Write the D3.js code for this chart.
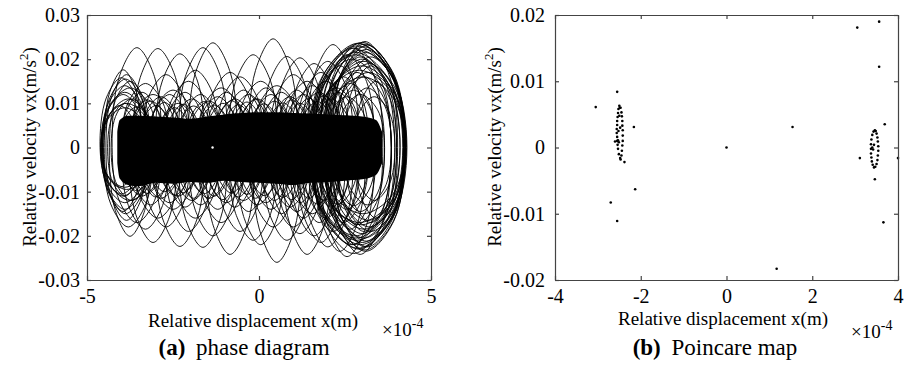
<!DOCTYPE html>
<html lang="en">
<head>
<meta charset="utf-8">
<style>
body { margin: 0; background: #fff; }
svg text { font-family: "Liberation Serif", "Times New Roman", serif; fill: #000; }
</style>
</head>
<body>
<script src="https://d3js.org/d3.v7.min.js"></script>
<script>
var width = 915, height = 365;

// ---- (a) phase diagram: loops of the trajectory (x in 1e-4 m) ----
var loopX      = [-4.0, -3.9, -3.85, -3.95, -3.75, -3.55, -3.3, -3.08, -2.94, -2.7, -2.5, -2.3, -2.05, -1.85, -1.63, -1.34, -1.1, -0.84, -0.55, -0.17, 0.05, 0.41, 0.52, 0.81, 1.0, 1.19, 1.4, 1.6, 1.8, 2.0, 2.15, 2.35, 2.56, 2.75, 2.94, 3.08];
var loopTop    = [0.0158, 0.0125, 0.0100, 0.0176, 0.0150, 0.0226, 0.0145, 0.0120, 0.0224, 0.0165, 0.0130, 0.0212, 0.0150, 0.0175, 0.0226, 0.0237, 0.0135, 0.0170, 0.0160, 0.0210, 0.0150, 0.0246, 0.0140, 0.0206, 0.0165, 0.0203, 0.0150, 0.0190, 0.0170, 0.0195, 0.0233, 0.0185, 0.0210, 0.0225, 0.0205, 0.0240];
var loopBottom = [-0.0105, -0.0125, -0.0095, -0.0145, -0.0201, -0.0170, -0.0185, -0.0215, -0.0160, -0.0180, -0.0140, -0.0224, -0.0190, -0.0160, -0.0226, -0.0200, -0.0170, -0.0242, -0.0190, -0.0210, -0.0220, -0.0180, -0.0260, -0.0210, -0.0180, -0.0195, -0.0242, -0.0200, -0.0215, -0.0225, -0.0190, -0.0235, -0.0247, -0.0220, -0.0242, -0.0225];
var loopHalfW  = [0.62, 0.7, 0.75, 0.55, 0.6, 0.72, 0.7, 0.7, 0.72, 0.7, 0.7, 0.72, 0.7, 0.7, 0.72, 0.72, 0.7, 0.72, 0.7, 0.72, 0.7, 0.72, 0.72, 0.72, 0.7, 0.72, 0.72, 0.72, 0.72, 0.75, 0.75, 0.75, 0.8, 0.85, 0.9, 0.95];

// nested loops at the left edge
var leftX      = [-3.95, -3.9, -3.85, -3.8, -3.9, -3.75, -3.88];
var leftTop    = [0.0120, 0.0140, 0.0165, 0.0110, 0.0090, 0.0135, 0.0155];
var leftBottom = [-0.0110, -0.0140, -0.0165, -0.0180, -0.0090, -0.0120, -0.0150];
var leftHalfW  = [0.62, 0.68, 0.6, 0.72, 0.7, 0.8, 0.66];

// wide loops at the right edge
var edgeX      = [2.9, 3.0, 3.05, 2.95, 3.1, 3.0, 2.85, 3.15, 3.2, 2.8, 2.92, 3.02, 2.75, 2.88, 3.12, 3.25, 2.98, 3.08, 2.7, 3.18, 2.82, 3.05];
var edgeTop    = [0.0235, 0.0238, 0.0228, 0.0220, 0.0215, 0.0200, 0.0230, 0.0232, 0.0190, 0.0210, 0.0175, 0.0160, 0.0225, 0.0236, 0.0222, 0.0205, 0.0185, 0.0234, 0.0200, 0.0170, 0.0215, 0.0195];
var edgeBottom = [-0.0230, -0.0215, -0.0205, -0.0220, -0.0235, -0.0195, -0.0210, -0.0225, -0.0180, -0.0200, -0.0170, -0.0150, -0.0240, -0.0228, -0.0212, -0.0190, -0.0175, -0.0232, -0.0220, -0.0165, -0.0205, -0.0185];
var edgeHalfW  = [1.3, 1.25, 1.2, 1.35, 1.15, 1.1, 1.4, 1.05, 1.0, 1.3, 1.32, 1.22, 1.2, 1.38, 1.12, 1.02, 1.28, 1.18, 1.15, 1.08, 1.36, 1.24];

// small loops forming the fringe of the dense core
var fringeX      = [-4.05, -3.7, -3.4, -3.15, -2.85, -2.6, -2.35, -2.15, -1.95, -1.7, -1.45, -1.2, -0.95, -0.7, -0.45, -0.3, -0.05, 0.2, 0.35, 0.65, 0.9, 1.1, 1.3, 1.55, 1.75, 1.95, 2.25, 2.45, 2.65, 2.85, 3.05, 3.25, 3.4];
var fringeTop    = [0.0095, 0.0110, 0.0125, 0.0105, 0.0115, 0.0120, 0.0100, 0.0125, 0.0110, 0.0120, 0.0105, 0.0115, 0.0125, 0.0110, 0.0130, 0.0120, 0.0110, 0.0135, 0.0120, 0.0125, 0.0115, 0.0130, 0.0120, 0.0140, 0.0125, 0.0150, 0.0135, 0.0160, 0.0145, 0.0170, 0.0160, 0.0185, 0.0150];
var fringeBottom = [-0.0090, -0.0120, -0.0110, -0.0130, -0.0115, -0.0125, -0.0110, -0.0135, -0.0120, -0.0130, -0.0115, -0.0140, -0.0125, -0.0135, -0.0120, -0.0145, -0.0130, -0.0125, -0.0140, -0.0150, -0.0135, -0.0145, -0.0160, -0.0150, -0.0170, -0.0160, -0.0180, -0.0170, -0.0185, -0.0175, -0.0190, -0.0170, -0.0160];
var fringeHalfW  = [0.5, 0.6, 0.6, 0.6, 0.6, 0.6, 0.6, 0.6, 0.6, 0.6, 0.6, 0.6, 0.6, 0.6, 0.6, 0.6, 0.6, 0.6, 0.6, 0.6, 0.6, 0.6, 0.6, 0.65, 0.65, 0.7, 0.7, 0.75, 0.75, 0.8, 0.8, 0.75, 0.6];

// second, lower layer of fringe loops
var fringe2X      = [-3.9, -3.55, -3.25, -3.0, -2.75, -2.45, -2.2, -1.9, -1.6, -1.3, -1.05, -0.8, -0.6, -0.35, -0.1, 0.15, 0.45, 0.7, 0.95, 1.2, 1.45, 1.7, 1.9, 2.1, 2.3, 2.55, 2.75, 2.95, 3.15, 3.35];
var fringe2Top    = [0.0100, 0.0092, 0.0108, 0.0095, 0.0102, 0.0090, 0.0098, 0.0094, 0.0104, 0.0096, 0.0100, 0.0106, 0.0097, 0.0103, 0.0110, 0.0099, 0.0105, 0.0101, 0.0108, 0.0100, 0.0112, 0.0104, 0.0118, 0.0110, 0.0125, 0.0115, 0.0130, 0.0120, 0.0135, 0.0115];
var fringe2Bottom = [-0.0110, -0.0098, -0.0104, -0.0112, -0.0100, -0.0108, -0.0102, -0.0115, -0.0105, -0.0110, -0.0118, -0.0103, -0.0112, -0.0106, -0.0115, -0.0109, -0.0120, -0.0113, -0.0118, -0.0125, -0.0115, -0.0128, -0.0120, -0.0135, -0.0128, -0.0140, -0.0132, -0.0145, -0.0130, -0.0120];
var fringe2HalfW  = [0.5, 0.5, 0.5, 0.5, 0.5, 0.5, 0.5, 0.5, 0.5, 0.5, 0.5, 0.5, 0.5, 0.5, 0.5, 0.5, 0.5, 0.5, 0.5, 0.5, 0.5, 0.55, 0.55, 0.6, 0.6, 0.65, 0.65, 0.7, 0.7, 0.6];

// dense core envelope
var coreX      = [-4.12, -4.05, -3.8, -3.5, -3.0, -2.5, -2.0, -1.5, -1.0, -0.5, 0, 0.5, 1.0, 1.5, 2.0, 2.5, 3.0, 3.4, 3.58];
var coreTop    = [0.0035, 0.0062, 0.0072, 0.0072, 0.0070, 0.0068, 0.0065, 0.0070, 0.0075, 0.0078, 0.0080, 0.0080, 0.0078, 0.0077, 0.0075, 0.0073, 0.0070, 0.0062, 0.0035];
var coreBottom = [-0.0035, -0.0070, -0.0085, -0.0088, -0.0080, -0.0082, -0.0078, -0.0080, -0.0075, -0.0078, -0.0080, -0.0082, -0.0085, -0.0080, -0.0078, -0.0075, -0.0072, -0.0062, -0.0035];

// ---- (b) Poincare map points ----
var ptX = [-3.05, -2.55, -2.16, -2.38, -2.6, -2.13, -2.70, -2.55, 0, 1.54, 1.17, 3.05, 3.56, 3.56, 3.69, 3.11, 4.0, 3.46, 3.66];
var ptV = [0.0061, 0.0084, 0.0031, -0.0022, 0.0009, -0.0063, -0.0083, -0.0111, 0, 0.0031, -0.0183, 0.0181, 0.0190, 0.0122, 0.0035, -0.0016, -0.0016, -0.0048, -0.0113];
var c1X = [-2.50, -2.49, -2.52, -2.53, -2.54, -2.55, -2.55, -2.56, -2.56, -2.55, -2.55, -2.54, -2.53, -2.51, -2.48, -2.47, -2.45, -2.44, -2.43, -2.42, -2.42, -2.42, -2.43, -2.43, -2.44, -2.45, -2.47, -2.51, -2.53, -2.48, -2.50, -2.52];
var c1V = [0.0063, 0.0060, 0.0058, 0.0052, 0.0046, 0.0040, 0.0034, 0.0028, 0.0022, 0.0016, 0.0010, 0.0004, -0.0002, -0.0010, -0.0016, -0.0018, -0.0012, -0.0005, 0.0003, 0.0010, 0.0018, 0.0026, 0.0033, 0.0040, 0.0047, 0.0053, 0.0060, 0.0008, 0.0011, 0.0030, 0.0048, 0.0025];
var c2X = [3.46, 3.43, 3.40, 3.38, 3.37, 3.37, 3.37, 3.38, 3.39, 3.41, 3.44, 3.47, 3.50, 3.52, 3.53, 3.54, 3.54, 3.53, 3.52, 3.50, 3.48, 3.42, 3.44, 3.40];
var c2V = [0.0026, 0.0024, 0.0019, 0.0012, 0.0005, -0.0002, -0.0009, -0.0015, -0.0021, -0.0026, -0.0030, -0.0029, -0.0025, -0.0019, -0.0012, -0.0005, 0.0002, 0.0009, 0.0015, 0.0021, 0.0025, -0.0003, 0.0004, 0.0000];

// ticks
var aXTicks = [-5, 0, 5], aXLabels = ["-5", "0", "5"];
var aYTicks = [-0.03, -0.02, -0.01, 0, 0.01, 0.02, 0.03];
var aYLabels = ["-0.03", "-0.02", "-0.01", "0", "0.01", "0.02", "0.03"];
var bXTicks = [-4, -2, 0, 2, 4], bXLabels = ["-4", "-2", "0", "2", "4"];
var bYTicks = [-0.02, -0.01, 0, 0.01, 0.02];
var bYLabels = ["-0.02", "-0.01", "0", "0.01", "0.02"];

var serif = '"Liberation Serif", "Times New Roman", serif';
var svg = d3.select('body').append('svg').attr('width', width).attr('height', height);

function frame(x, y, xt, xl, yt, yl, yPad) {
  var g = svg.append('g');
  var x0 = x.range()[0], x1 = x.range()[1], y0 = y.range()[0], y1 = y.range()[1];
  var fmtX = function(d) { return xl[xt.indexOf(d)]; };
  var fmtY = function(d) { return yl[yt.indexOf(d)]; };
  var bottom = g.append('g').attr('transform', 'translate(0,' + y0 + ')')
    .call(d3.axisBottom(x).tickValues(xt).tickFormat(fmtX).tickSizeInner(-4).tickSizeOuter(0).tickPadding(9));
  g.append('g').attr('transform', 'translate(0,' + y1 + ')')
    .call(d3.axisTop(x).tickValues(xt).tickFormat('').tickSizeInner(-4).tickSizeOuter(0));
  g.append('g').attr('transform', 'translate(' + x0 + ',0)')
    .call(d3.axisLeft(y).tickValues(yt).tickFormat(fmtY).tickSizeInner(-4).tickSizeOuter(0).tickPadding(yPad));
  g.append('g').attr('transform', 'translate(' + x1 + ',0)')
    .call(d3.axisRight(y).tickValues(yt).tickFormat('').tickSizeInner(-4).tickSizeOuter(0));
  g.selectAll('.domain, .tick line').attr('stroke', '#444').attr('stroke-width', 1.2);
  g.selectAll('g').attr('font-family', null);
  g.selectAll('.tick text').style('font-family', serif).style('font-size', '20px').attr('fill', '#000');
  bottom.selectAll('.tick text').attr('dy', '0.7em');
  return g;
}

// ---------- panel (a) ----------
var xa = d3.scaleLinear().domain([-5, 5]).range([87, 431]);
var ya = d3.scaleLinear().domain([-0.03, 0.03]).range([280, 15]);

var loopLine = d3.line()
  .x(function(d) { return xa(d[0]); })
  .y(function(d) { return ya(d[1]); })
  .curve(d3.curveCatmullRomClosed.alpha(0.5));

// eight guide points of an oval loop (0.71 = cos 45deg)
function loopPts(xs, tops, bots, ws) {
  return xs.map(function(x, i) {
    var a = ws[i], t = tops[i], b = bots[i];
    return [[x, t], [x + 0.71 * a, 0.71 * t], [x + a, 0], [x + 0.71 * a, 0.71 * b],
            [x, b], [x - 0.71 * a, 0.71 * b], [x - a, 0], [x - 0.71 * a, 0.71 * t]];
  });
}

var pa = svg.append('g');
var allLoops = loopPts(loopX, loopTop, loopBottom, loopHalfW)
  .concat(loopPts(leftX, leftTop, leftBottom, leftHalfW))
  .concat(loopPts(edgeX, edgeTop, edgeBottom, edgeHalfW))
  .concat(loopPts(fringeX, fringeTop, fringeBottom, fringeHalfW))
  .concat(loopPts(fringe2X, fringe2Top, fringe2Bottom, fringe2HalfW));
pa.selectAll('path.loop').data(allLoops).join('path')
  .attr('class', 'loop')
  .attr('d', loopLine)
  .attr('fill', 'none')
  .attr('stroke', '#000')
  .attr('stroke-width', 0.9);

var coreData = coreX.map(function(x, i) { return { x: x, t: coreTop[i], b: coreBottom[i] }; });
pa.append('path').datum(coreData)
  .attr('d', d3.area()
    .x(function(d) { return xa(d.x); })
    .y0(function(d) { return ya(d.b); })
    .y1(function(d) { return ya(d.t); })
    .curve(d3.curveMonotoneX))
  .attr('fill', '#000');
pa.append('circle').attr('cx', xa(-1.35)).attr('cy', ya(0)).attr('r', 1.2).attr('fill', '#fff');

frame(xa, ya, aXTicks, aXLabels, aYTicks, aYLabels, 7);

// ---------- panel (b) ----------
var xb = d3.scaleLinear().domain([-4, 4]).range([555, 898]);
var yb = d3.scaleLinear().domain([-0.02, 0.02]).range([280, 15]);

var pts = ptX.map(function(x, i) { return [x, ptV[i]]; })
  .concat(c1X.map(function(x, i) { return [x, c1V[i]]; }))
  .concat(c2X.map(function(x, i) { return [x, c2V[i]]; }));
svg.append('g').selectAll('circle').data(pts).join('circle')
  .attr('cx', function(d) { return xb(d[0]); })
  .attr('cy', function(d) { return yb(d[1]); })
  .attr('r', 1.3)
  .attr('fill', '#000');

frame(xb, yb, bXTicks, bXLabels, bYTicks, bYLabels, 10);

// ---------- labels ----------
function yLabel(x, y) {
  var t = svg.append('text').attr('transform', 'translate(' + x + ',' + y + ') rotate(-90)')
    .attr('text-anchor', 'middle').attr('font-size', 19);
  t.append('tspan').text('Relative velocity vx(m/s');
  t.append('tspan').attr('font-size', 13).attr('dy', -8).text('2');
  t.append('tspan').attr('dy', 8).text(')');
}
yLabel(36, 147);
yLabel(501, 147);

svg.append('text').attr('x', 253).attr('y', 327).attr('text-anchor', 'middle').attr('font-size', 19).text('Relative displacement x(m)');
svg.append('text').attr('x', 723).attr('y', 325).attr('text-anchor', 'middle').attr('font-size', 19).text('Relative displacement x(m)');

function exponent(x, y) {
  var t = svg.append('text').attr('x', x).attr('y', y).attr('font-size', 19);
  t.append('tspan').text('\u00d710');
  t.append('tspan').attr('font-size', 14).attr('dy', -8).text('-4');
}
exponent(382, 336);
exponent(851, 338);

function caption(x, y, tag, txt) {
  var t = svg.append('text').attr('x', x).attr('y', y).attr('text-anchor', 'middle').attr('font-size', 23);
  t.append('tspan').attr('font-weight', 'bold').text(tag);
  t.append('tspan').attr('dx', 5).text(' ' + txt);
}
caption(244, 355, '(a)', 'phase diagram');
caption(715, 355, '(b)', 'Poincare map');
</script>
</body>
</html>
